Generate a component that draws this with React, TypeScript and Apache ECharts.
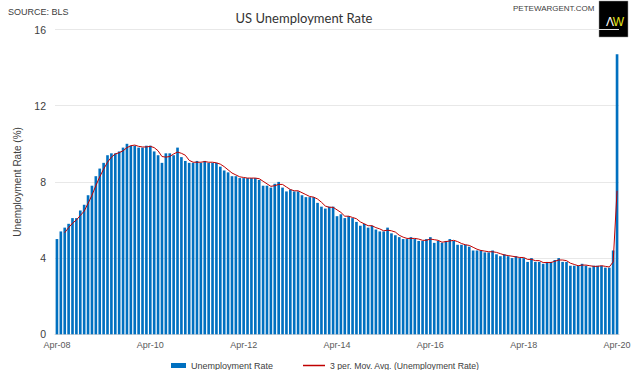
import React, { useEffect, useRef } from "react";
import * as echarts from "echarts";

// Monthly US unemployment rate (%), Apr-08 .. Apr-20
const rate2008 = [5.0, 5.4, 5.6, 5.8, 6.1, 6.1, 6.5, 6.8, 7.3];
const rate2009 = [7.8, 8.3, 8.7, 9.0, 9.4, 9.5, 9.5, 9.6, 9.8, 10.0, 9.9, 9.9];
const rate2010 = [9.8, 9.8, 9.9, 9.9, 9.6, 9.4, 9.0, 9.5, 9.5, 9.4, 9.8, 9.3];
const rate2011 = [9.1, 9.0, 9.0, 9.1, 9.0, 9.1, 9.0, 9.0, 9.0, 8.8, 8.6, 8.5];
const rate2012 = [8.3, 8.3, 8.2, 8.2, 8.2, 8.2, 8.2, 8.1, 7.8, 7.8, 7.7, 7.9];
const rate2013 = [8.0, 7.7, 7.5, 7.6, 7.5, 7.5, 7.3, 7.2, 7.2, 7.2, 6.9, 6.7];
const rate2014 = [6.6, 6.7, 6.7, 6.2, 6.3, 6.1, 6.2, 6.1, 5.9, 5.7, 5.8, 5.6];
const rate2015 = [5.7, 5.5, 5.4, 5.4, 5.6, 5.3, 5.2, 5.1, 5.0, 5.0, 5.1, 5.0];
const rate2016 = [4.9, 4.9, 5.0, 5.1, 4.8, 4.9, 4.8, 4.9, 5.0, 4.9, 4.7, 4.7];
const rate2017 = [4.7, 4.6, 4.4, 4.4, 4.4, 4.3, 4.3, 4.4, 4.2, 4.1, 4.2, 4.1];
const rate2018 = [4.0, 4.1, 4.0, 4.0, 3.8, 4.0, 3.8, 3.8, 3.7, 3.8, 3.8, 3.9];
const rate2019 = [4.0, 3.8, 3.8, 3.6, 3.6, 3.6, 3.7, 3.6, 3.5, 3.6, 3.6, 3.6];
const rate2020 = [3.5, 3.5, 4.4, 14.7];

const rates = [
  ...rate2008, ...rate2009, ...rate2010, ...rate2011, ...rate2012, ...rate2013,
  ...rate2014, ...rate2015, ...rate2016, ...rate2017, ...rate2018, ...rate2019, ...rate2020,
];

const monthNames = ["Jan", "Feb", "Mar", "Apr", "May", "Jun", "Jul", "Aug", "Sep", "Oct", "Nov", "Dec"];
const startYear = 2008;
const startMonth = 3; // April
const categories = rates.map((_, i) => {
  const m = (startMonth + i) % 12;
  const y = startYear + Math.floor((startMonth + i) / 12);
  return `${monthNames[m]}-${String(y % 100).padStart(2, "0")}`;
});

const yTicks = { min: 0, max: 16, interval: 4 };

// 3-period moving average of the bar series (as the chart's trendline)
const movingAvg = rates.map((_, i) =>
  i < 2 ? null : Math.round(((rates[i] + rates[i - 1] + rates[i - 2]) / 3) * 1000) / 1000
);

const barName = "Unemployment Rate";
const lineName = "3 per. Mov. Avg. (Unemployment Rate)";

const FONT = "'Liberation Sans', Arial, sans-serif";

export default function App() {
  const ref = useRef<HTMLDivElement>(null);
  useEffect(() => {
    if (!ref.current) return;
    const chart = echarts.init(ref.current, undefined, { renderer: "svg" });
    chart.setOption({
      animation: false,
      backgroundColor: "#ffffff",
      textStyle: { fontFamily: FONT },
      title: {
        text: "US Unemployment Rate",
        left: 299,
        top: 6,
        textAlign: "center",
        textStyle: { fontFamily: "Lato, 'Open Sans', sans-serif", fontSize: 13, fontWeight: "normal", color: "#333333" },
      },
      graphic: [
        { type: "text", left: 8, top: 7, style: { text: "SOURCE: BLS", fontFamily: FONT, fontSize: 9, fill: "#404040" } },
        { type: "text", left: 513, top: 4, style: { text: "PETEWARGENT.COM", fontFamily: FONT, fontSize: 8, fill: "#404040" } },
        { type: "rect", shape: { x: 599, y: 1, width: 29, height: 36 }, style: { fill: "#000000", stroke: "#9a9a9a", lineWidth: 0.5 } },
        { type: "text", x: 610, y: 22, style: { text: "Λ", fontFamily: FONT, fontSize: 12, fill: "#ffffff", align: "center", verticalAlign: "middle" } },
        { type: "text", x: 618.5, y: 22, style: { text: "W", fontFamily: FONT, fontSize: 12, fill: "#e8e81a", align: "center", verticalAlign: "middle" } },
      ],
      legend: [
        {
          data: [barName],
          left: 166,
          top: 356,
          icon: "rect",
          itemWidth: 15,
          itemHeight: 5,
          textStyle: { fontFamily: FONT, fontSize: 9, color: "#404040" },
          selectedMode: false,
        },
        {
          data: [lineName],
          left: 298,
          top: 356,
          icon: "rect",
          itemWidth: 22,
          itemHeight: 1.5,
          textStyle: { fontFamily: FONT, fontSize: 8.7, color: "#404040" },
          selectedMode: false,
        },
      ],
      grid: { left: 55, right: 21, top: 29.5, bottom: 35.7, containLabel: false },
      xAxis: {
        type: "category",
        data: categories,
        boundaryGap: true,
        axisTick: { show: false },
        axisLine: { lineStyle: { color: "#d9d9d9" } },
        axisLabel: { interval: 23, fontFamily: FONT, fontSize: 9, color: "#595959", margin: 6 },
        splitLine: { show: false },
      },
      yAxis: {
        type: "value",
        min: yTicks.min,
        max: yTicks.max,
        interval: yTicks.interval,
        name: "Unemployment Rate (%)",
        nameLocation: "middle",
        nameGap: 33,
        nameTextStyle: { fontFamily: FONT, fontSize: 10, color: "#404040" },
        axisLabel: { fontFamily: FONT, fontSize: 10.5, color: "#404040", margin: 9 },
        axisLine: { show: false },
        axisTick: { show: false },
        splitLine: { lineStyle: { color: "#e8e8e8", width: 1 } },
      },
      series: [
        {
          name: barName,
          type: "bar",
          data: rates,
          barCategoryGap: "32%",
          itemStyle: { color: "#0070c0" },
        },
        {
          name: lineName,
          type: "line",
          data: movingAvg,
          showSymbol: false,
          symbol: "none",
          connectNulls: false,
          lineStyle: { color: "#c00000", width: 1 },
          itemStyle: { color: "#c00000" },
          z: 3,
        },
      ],
    });
    return () => chart.dispose();
  }, []);
  return (
    <div
      ref={ref}
      style={{ position: "absolute", left: 0, top: 0, width: 640, height: 370 }}
    />
  );
}
